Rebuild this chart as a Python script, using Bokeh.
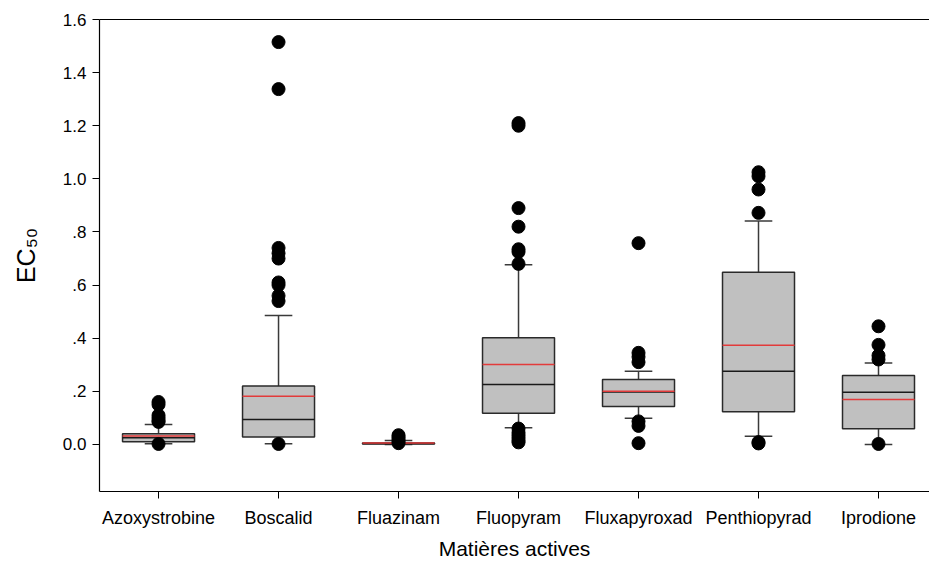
from bokeh.plotting import figure
from bokeh.models import (FixedTicker, CustomJSTickFormatter, LinearAxis, Range1d,
                          ColumnDataSource)
from bokeh.embed import file_html
from bokeh.resources import INLINE

# ---------------- data ----------------
categories = ["Azoxystrobine", "Boscalid", "Fluazinam", "Fluopyram",
              "Fluxapyroxad", "Penthiopyrad", "Iprodione"]
q1 = [0.010, 0.028, 0.002, 0.118, 0.143, 0.123, 0.059]
median = [0.025, 0.094, 0.004, 0.226, 0.198, 0.276, 0.197]
mean = [0.032, 0.182, 0.006, 0.301, 0.200, 0.374, 0.169]
q3 = [0.040, 0.220, 0.006, 0.402, 0.245, 0.648, 0.260]
whisker_low = [0.003, 0.003, 0.000, 0.063, 0.099, 0.031, 0.000]
whisker_high = [0.075, 0.486, 0.015, 0.677, 0.276, 0.841, 0.307]

azoxystrobine_out = [0.160, 0.150, 0.110, 0.100, 0.090, 0.085, 0.002]
boscalid_out = [1.515, 1.338, 0.740, 0.720, 0.700, 0.610, 0.600, 0.560, 0.540, 0.002]
fluazinam_out = [0.035, 0.028, 0.020, 0.012, 0.005]
fluopyram_out = [1.210, 1.200, 0.890, 0.820, 0.735, 0.725, 0.680,
                 0.060, 0.045, 0.035, 0.025, 0.015, 0.008]
fluxapyroxad_out = [0.758, 0.345, 0.330, 0.310, 0.087, 0.070, 0.005]
penthiopyrad_out = [1.025, 1.010, 0.960, 0.872, 0.009, 0.004]
iprodione_out = [0.445, 0.375, 0.335, 0.320, 0.002]
outliers = [azoxystrobine_out, boscalid_out, fluazinam_out, fluopyram_out,
            fluxapyroxad_out, penthiopyrad_out, iprodione_out]

y_ticks = [0.0, 0.2, 0.4, 0.6, 0.8, 1.0, 1.2, 1.4, 1.6]

# ---------------- figure ----------------
xs = list(range(1, len(categories) + 1))
box_w = 0.6
cap_w = 0.23

p = figure(width=929, height=565, output_backend="svg", toolbar_location=None,
           x_range=Range1d(0.508, 7.425), y_range=Range1d(-0.177, 1.6),
           min_border_left=99, min_border_right=0, min_border_top=19,
           min_border_bottom=74)
p.outline_line_color = None
p.xgrid.visible = False
p.ygrid.visible = False
p.background_fill_color = "white"
p.border_fill_color = "white"

box_src = ColumnDataSource(dict(
    x=xs, q1=q1, q3=q3, med=median, mean=mean, lo=whisker_low, hi=whisker_high,
    xl=[x - box_w / 2 for x in xs], xr=[x + box_w / 2 for x in xs],
    cl=[x - cap_w / 2 for x in xs], cr=[x + cap_w / 2 for x in xs],
))

wcol = "#3a3a3a"
# whiskers
p.segment(x0="x", y0="q3", x1="x", y1="hi", source=box_src, line_color=wcol, line_width=1.5)
p.segment(x0="x", y0="lo", x1="x", y1="q1", source=box_src, line_color=wcol, line_width=1.5)
# caps
p.segment(x0="cl", y0="hi", x1="cr", y1="hi", source=box_src, line_color=wcol, line_width=1.5)
p.segment(x0="cl", y0="lo", x1="cr", y1="lo", source=box_src, line_color=wcol, line_width=1.5)
# boxes
p.vbar(x="x", width=box_w, bottom="q1", top="q3", source=box_src,
       fill_color="#c0c0c0", line_color="#2a2a2a", line_width=1.5)
# median and mean
p.segment(x0="xl", y0="med", x1="xr", y1="med", source=box_src, line_color="#1a1a1a", line_width=1.5)
p.segment(x0="xl", y0="mean", x1="xr", y1="mean", source=box_src, line_color="#e23b3b", line_width=1.5)

# outliers
ox, oy = [], []
for x, vals in zip(xs, outliers):
    for v in vals:
        ox.append(x)
        oy.append(v)
p.scatter(ox, oy, size=13, fill_color="black", line_color="black")

# axes
font = "Liberation Sans"
p.xaxis.ticker = FixedTicker(ticks=xs)
p.xaxis.major_label_overrides = {x: c for x, c in zip(xs, categories)}
p.yaxis.ticker = FixedTicker(ticks=y_ticks)
p.yaxis.formatter = CustomJSTickFormatter(code="""
    if (Math.abs(tick) < 1e-9) return "0.0";
    const s = tick.toFixed(1);
    return tick < 1 ? s.slice(1) : s;
""")
for ax in (p.xaxis[0], p.yaxis[0]):
    ax.axis_line_color = "black"
    ax.axis_line_width = 1.2
    ax.major_tick_line_color = "black"
    ax.major_tick_out = 7
    ax.major_tick_in = 0
    ax.minor_tick_line_color = None
    ax.major_label_text_font = font
    ax.major_label_text_color = "black"
    ax.axis_label_text_font = font
    ax.axis_label_text_font_style = "normal"
    ax.axis_label_text_color = "black"

p.xaxis.major_label_text_font_size = "18px"
p.xaxis.major_label_standoff = 9
p.xaxis.axis_label = "Matières actives"
p.xaxis.axis_label_text_font_size = "21px"
p.xaxis.axis_label_standoff = 6

p.yaxis.major_label_text_font_size = "17px"
p.yaxis.major_label_standoff = 6
p.yaxis.axis_label = "EC₅₀"
p.yaxis.axis_label_text_font_size = "25px"
p.yaxis.axis_label_standoff = 20

top_axis = LinearAxis(axis_line_color="black", axis_line_width=1.2,
                      major_tick_line_color=None, minor_tick_line_color=None,
                      major_label_text_font_size="0px", ticker=FixedTicker(ticks=[]))
p.add_layout(top_axis, "above")

open("out.html", "w").write(file_html(p, INLINE))
